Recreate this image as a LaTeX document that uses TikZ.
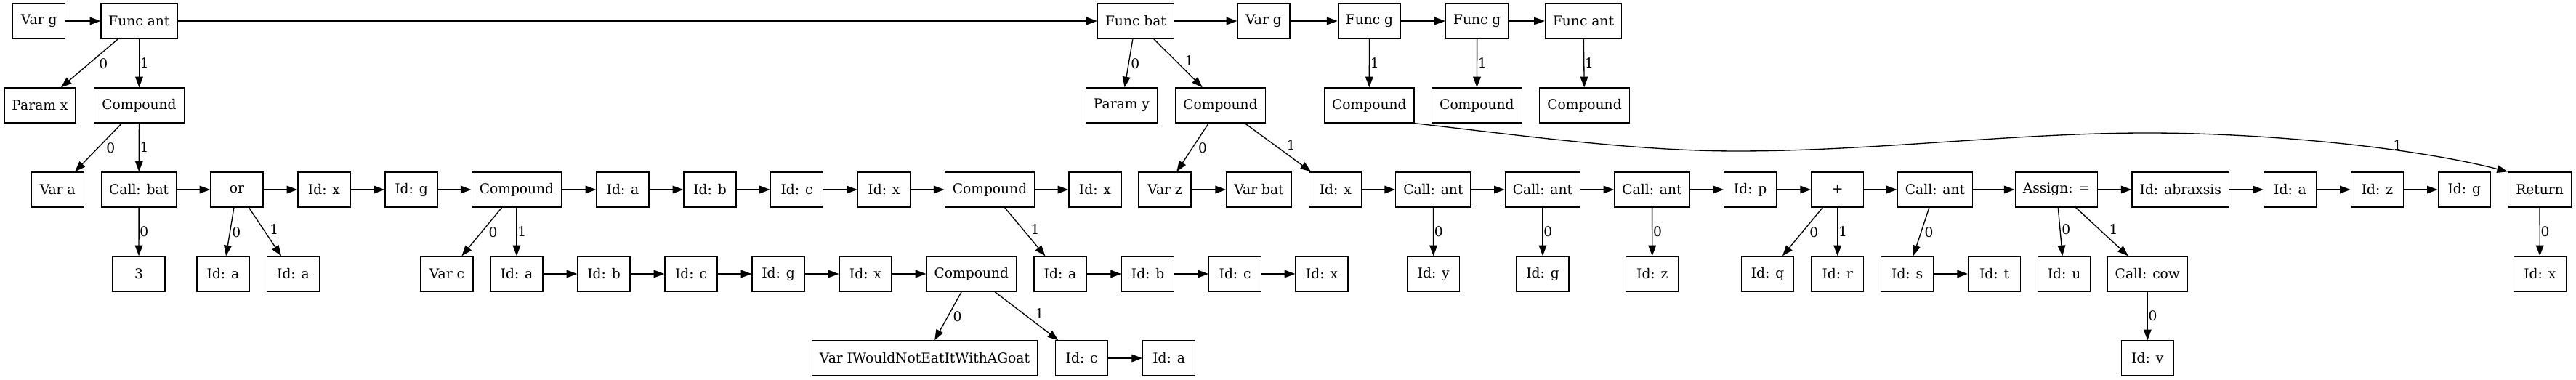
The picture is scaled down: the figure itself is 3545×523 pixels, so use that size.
\documentclass[tikz,border=0pt]{standalone}
\usepackage{fontspec}
\setmainfont{DejaVu Serif}
\usetikzlibrary{arrows.meta}
\begin{document}
\begin{tikzpicture}[x=0.75pt, y=-0.75pt,
  box/.style={draw, line width=1pt, rectangle, minimum width=54pt, minimum height=36pt,
    inner xsep=7.92pt, inner ysep=0pt, font=\fontsize{14pt}{16pt}\selectfont},
  arr/.style={line width=1pt, -{Triangle[length=11pt,width=8pt]}},
  lbl/.style={font=\fontsize{14pt}{16pt}\selectfont, inner xsep=0.5pt, inner ysep=2.5pt},
  lv/.style={lbl, pos=0.5, anchor=west},
  ll/.style={lbl, pos=0.35, anchor=north west},
  lr/.style={lbl, pos=0.62, anchor=south west},
]
\useasboundingbox (0,0) rectangle (3545,523);
\fill[white] (0,0) rectangle (3545,523);

% row 1
\node[box] (v1) at (53.7,29) {Var g};
\node[box] (f1) at (191.5,29) {Func ant};
\node[box] (f2) at (1563,29) {Func bat};
\node[box] (v2) at (1739,29) {Var g};
\node[box] (f3) at (1884.5,29) {Func g};
\node[box] (f4) at (2032.7,29) {Func g};
\node[box] (f5) at (2179,29) {Func ant};

% row 2
\node[box] (p1) at (55,145) {Param x};
\node[box] (c1) at (191.5,145) {Compound};
\node[box] (p2) at (1543.5,145) {Param y};
\node[box] (c5) at (1679.5,145) {Compound};
\node[box] (c6) at (1884.3,145) {Compound};
\node[box] (c7) at (2032.4,145) {Compound};
\node[box] (c8) at (2180.5,145) {Compound};

% row 3
\node[box] (va) at (79.2,261) {Var a};
\node[box] (cb) at (191.2,261) {Call: bat};
\node[box] (or) at (326,261) {or};
\node[box] (ix1) at (446,261) {Id: x};
\node[box] (ig1) at (566,261) {Id: g};
\node[box] (c2) at (711,261) {Compound};
\node[box] (ia1) at (857,261) {Id: a};
\node[box] (ib1) at (977,261) {Id: b};
\node[box] (ic1) at (1096.5,261) {Id: c};
\node[box] (ix2) at (1216.5,261) {Id: x};
\node[box] (c3) at (1362,261) {Compound};
\node[box] (ix3) at (1507,261) {Id: x};
\node[box] (vz) at (1603,261) {Var z};
\node[box] (vb) at (1732.5,261) {Var bat};
\node[box] (ix4) at (1837.8,261) {Id: x};
\node[box] (ca1) at (1972.4,261) {Call: ant};
\node[box] (ca2) at (2123,261) {Call: ant};
\node[box] (ca3) at (2273.5,261) {Call: ant};
\node[box] (ip) at (2408.7,261) {Id: p};
\node[box] (plus) at (2528.7,261) {+};
\node[box] (ca4) at (2663,261) {Call: ant};
\node[box] (asg) at (2830,261) {Assign: =};
\node[box] (iab) at (3000.8,261) {Id: abraxsis};
\node[box] (ia5) at (3151.5,261) {Id: a};
\node[box] (iz5) at (3271.4,261) {Id: z};
\node[box] (ig5) at (3391.3,261) {Id: g};
\node[box] (ret) at (3495,261) {Return};

% row 4
\node[box] (n3) at (191,377) {3};
\node[box] (ia2) at (307,377) {Id: a};
\node[box] (ia3) at (403.5,377) {Id: a};
\node[box] (vc) at (615,377) {Var c};
\node[box] (ia4) at (711,377) {Id: a};
\node[box] (ib2) at (831,377) {Id: b};
\node[box] (ic2) at (951,377) {Id: c};
\node[box] (ig2) at (1071,377) {Id: g};
\node[box] (ix5) at (1191,377) {Id: x};
\node[box] (c4) at (1336.8,377) {Compound};
\node[box] (ia6) at (1459,377) {Id: a};
\node[box] (ib3) at (1579.6,377) {Id: b};
\node[box] (ic3) at (1699.6,377) {Id: c};
\node[box] (ix6) at (1819,377) {Id: x};
\node[box] (iy) at (1972.7,377) {Id: y};
\node[box] (ig3) at (2123,377) {Id: g};
\node[box] (iz3) at (2273.8,377) {Id: z};
\node[box] (iq) at (2432.5,377) {Id: q};
\node[box] (ir) at (2528.7,377) {Id: r};
\node[box] (iss) at (2624.7,377) {Id: s};
\node[box] (itt) at (2744.6,377) {Id: t};
\node[box] (iu) at (2840.5,377) {Id: u};
\node[box] (cc) at (2955.3,377) {Call: cow};
\node[box] (ix7) at (3495.3,377) {Id: x};

% row 5
\node[box] (vw) at (1272.5,493) {Var IWouldNotEatItWithAGoat};
\node[box] (ic4) at (1488.7,493) {Id: c};
\node[box] (ia7) at (1608.6,493) {Id: a};
\node[box] (iv) at (2955.3,493) {Id: v};

% horizontal edges
\foreach \a/\b in {v1/f1, f1/f2, f2/v2, v2/f3, f3/f4, f4/f5,
  cb/or, or/ix1, ix1/ig1, ig1/c2, c2/ia1, ia1/ib1, ib1/ic1, ic1/ix2, ix2/c3, c3/ix3,
  vz/vb, ix4/ca1, ca1/ca2, ca2/ca3, ca3/ip, ip/plus, plus/ca4, ca4/asg, asg/iab,
  iab/ia5, ia5/iz5, iz5/ig5,
  ia4/ib2, ib2/ic2, ic2/ig2, ig2/ix5, ix5/c4, ia6/ib3, ib3/ic3, ic3/ix6, iss/itt,
  ic4/ia7}
  \draw[arr] (\a) -- (\b);

% labelled edges
\draw[arr] (f1) -- (p1) node[ll] {0};
\draw[arr] (f1) -- (c1) node[lv] {1};
\draw[arr] (c1) -- (va) node[ll] {0};
\draw[arr] (c1) -- (cb) node[lv] {1};
\draw[arr] (cb) -- (n3) node[lv] {0};
\draw[arr] (or) -- (ia2) node[ll] {0};
\draw[arr] (or) -- (ia3) node[lr] {1};
\draw[arr] (c2) -- (vc) node[ll] {0};
\draw[arr] (c2) -- (ia4) node[lv] {1};
\draw[arr] (c3) -- (ia6) node[lr] {1};
\draw[arr] (c4) -- (vw) node[ll] {0};
\draw[arr] (c4) -- (ic4) node[lr] {1};
\draw[arr] (f2) -- (p2) node[ll] {0};
\draw[arr] (f2) -- (c5) node[lr] {1};
\draw[arr] (c5) -- (vz) node[ll] {0};
\draw[arr] (c5) -- (ix4) node[lr] {1};
\draw[arr] (f3) -- (c6) node[lv] {1};
\draw[arr] (f4) -- (c7) node[lv] {1};
\draw[arr] (f5) -- (c8) node[lv] {1};
\draw[arr] (ca1) -- (iy) node[lv] {0};
\draw[arr] (ca2) -- (ig3) node[lv] {0};
\draw[arr] (ca3) -- (iz3) node[lv] {0};
\draw[arr] (plus) -- (iq) node[ll] {0};
\draw[arr] (plus) -- (ir) node[lv] {1};
\draw[arr] (ca4) -- (iss) node[ll] {0};
\draw[arr] (asg) -- (iu) node[lr] {0};
\draw[arr] (asg) -- (cc) node[lr] {1};
\draw[arr] (cc) -- (iv) node[lv] {0};
\draw[arr] (ret) -- (ix7) node[lv] {0};

% long curved edge
\coordinate (k1) at (2390,208);
\coordinate (k2) at (2955,183);
\draw[arr] (c6.south east) .. controls (2090,186) and (2250,208) .. (k1)
  .. controls (2580,208) and (2770,183) .. (k2)
  .. controls (3130,183) and (3330,205) .. (ret.north west)
  node[lbl, pos=0.65, anchor=south, inner sep=0pt] {1};
\end{tikzpicture}
\end{document}
